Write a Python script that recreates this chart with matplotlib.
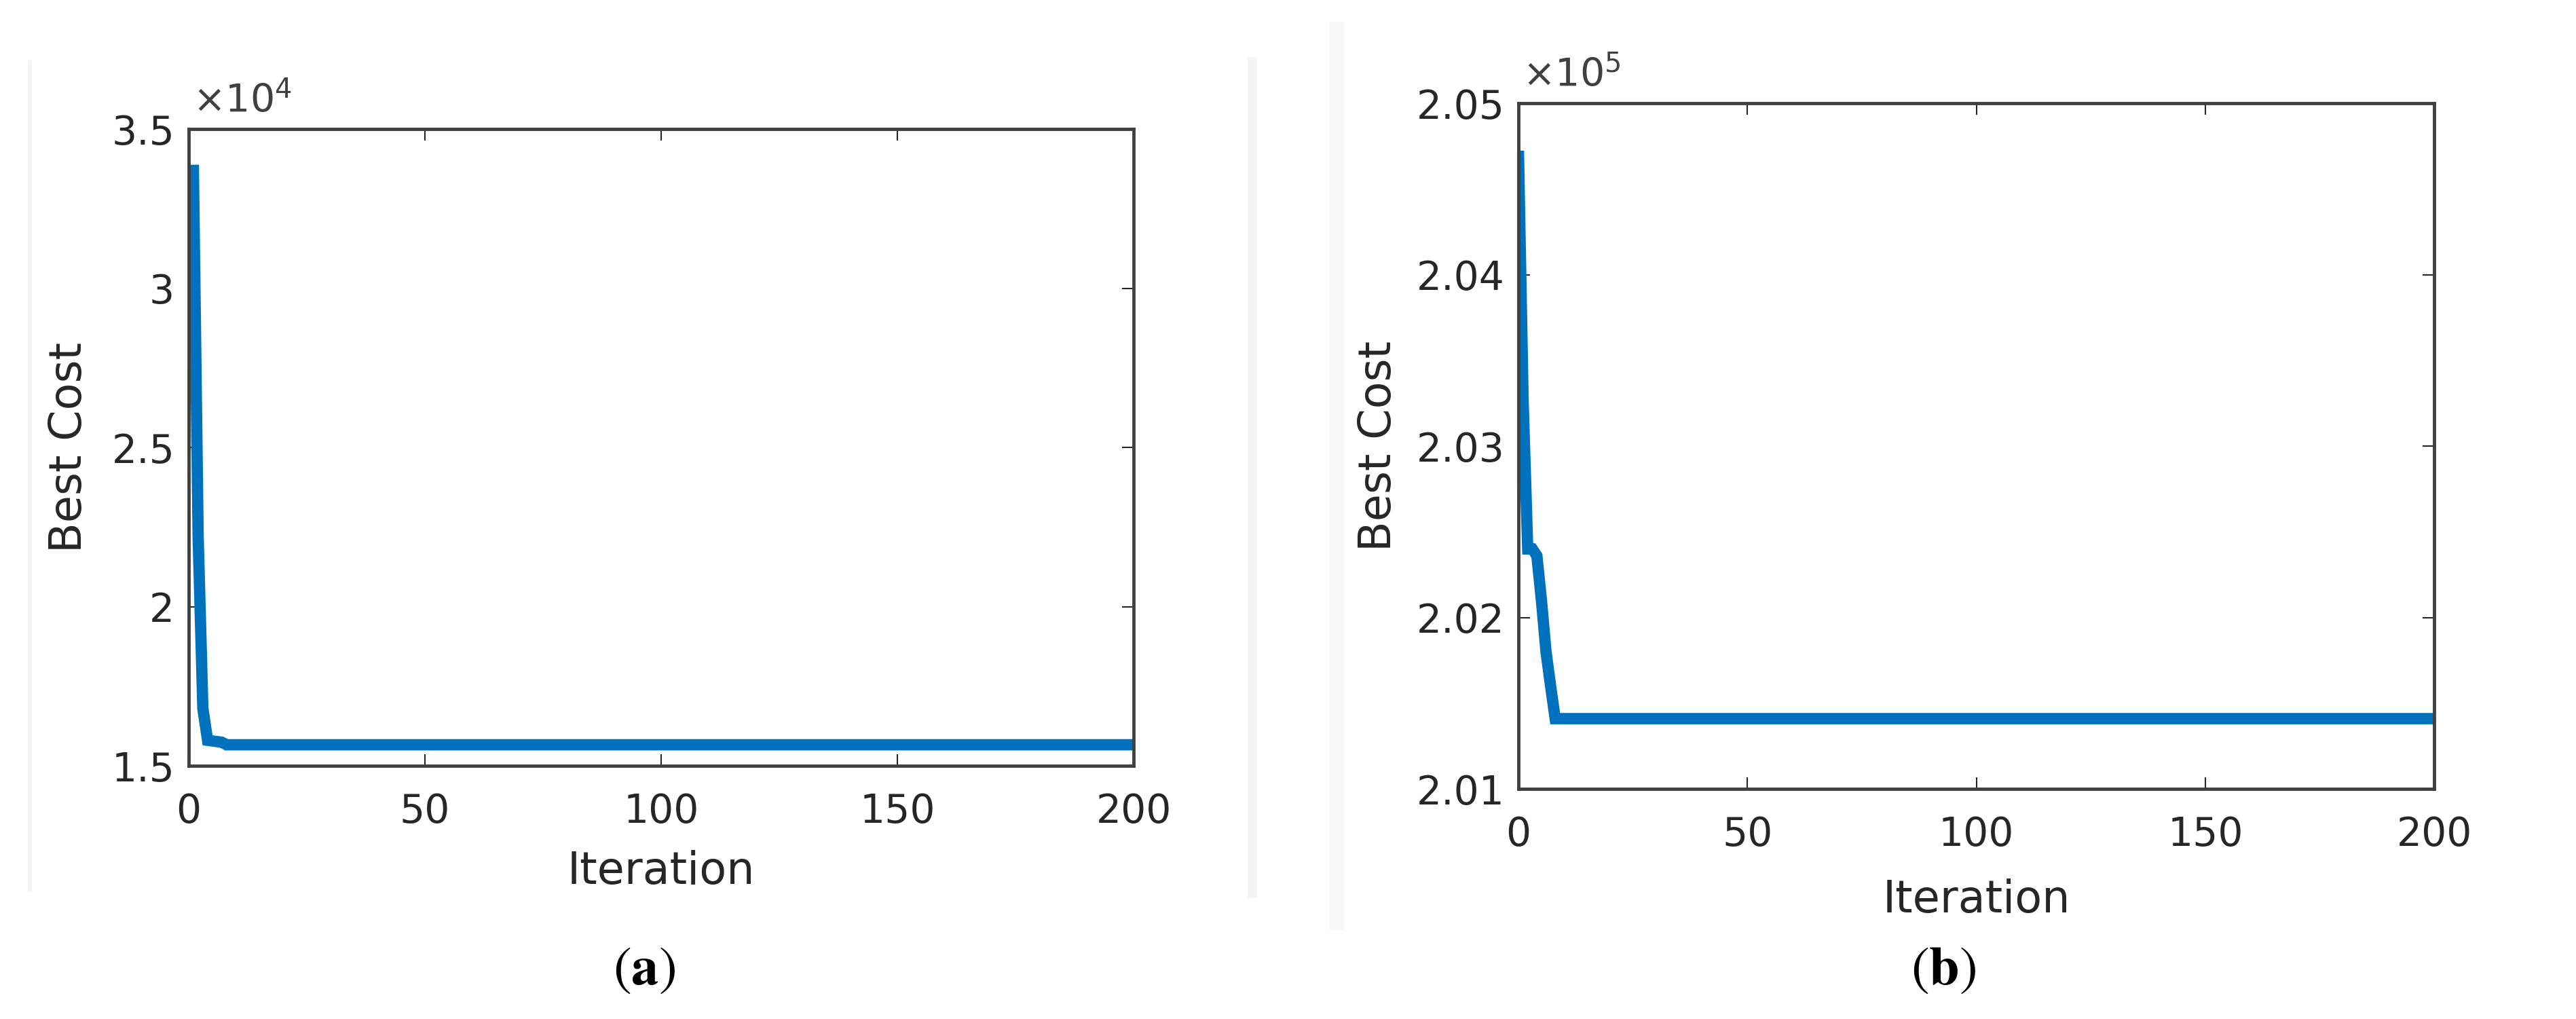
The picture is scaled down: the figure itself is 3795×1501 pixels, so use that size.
import numpy as np
import matplotlib
matplotlib.use("Agg")
import matplotlib.pyplot as plt
from matplotlib.lines import Line2D
from matplotlib.ticker import FuncFormatter

# iterations of the optimiser (panel b is logged from iteration 0)
iters_a = np.arange(1, 201)
iters_b = np.arange(0, 200)

# (a) best cost, first iterations then plateau
cost_a_head = [33700, 22200, 16800, 15800, 15780, 15760, 15740, 15660]
cost_a_tail = 15660
# (b) best cost, first iterations then plateau
cost_b_head = [204690, 203260, 202400, 202400, 202360, 202100, 201800, 201600, 201410]
cost_b_tail = 201410

x_ticks = [0, 50, 100, 150, 200]
y_ticks_a = [15000, 20000, 25000, 30000, 35000]
y_ticks_b = [201000, 202000, 203000, 204000, 205000]


def full_series(n, head, tail):
    return np.r_[head, np.full(n - len(head), tail)]


plt.rcParams["font.family"] = "DejaVu Sans"
TXT = "#262626"
LINE = "#0072BD"

fig = plt.figure(figsize=(37.95, 15.01), dpi=100)
fig.patch.set_facecolor("white")

# faint panel borders
for x, y0, y1, c, w in [
    (44 / 3795, 91, 1310, "#f4f4f4", 4),
    (1845 / 3795, 91, 1316, "#f4f4f4", 10),
    (1970 / 3795, 43, 1359, "#f8f8f8", 16),
]:
    fig.add_artist(Line2D([x, x], [1 - y1 / 1501, 1 - y0 / 1501],
                          transform=fig.transFigure, color=c, lw=w, zorder=0))

panels = [
    ([0.07325, 0.2485, 0.3668, 0.6249], iters_a, cost_a_head, cost_a_tail, y_ticks_a,
     1e4, "4", "a", 949, 22, 20),
    ([0.5895, 0.2258, 0.3555, 0.6729], iters_b, cost_b_head, cost_b_tail, y_ticks_b,
     1e5, "5", "b", 2863, 17, 26),
]

for rect, it, head, tail, yt, scale, exp, tag, tag_x, ypad, xpad in panels:
    ax = fig.add_axes(rect)
    ax.plot(it, full_series(len(it), head, tail), color=LINE, lw=12, solid_joinstyle="miter")
    ax.set_xlim(0, 200)
    ax.set_ylim(yt[0], yt[-1])
    ax.set_xticks(x_ticks)
    ax.set_yticks(yt)
    ax.yaxis.set_major_formatter(FuncFormatter(lambda v, p, s=scale: f"{v / s:g}"))
    ax.tick_params(direction="in", length=12, width=1.5, colors=TXT, labelsize=42,
                   top=True, right=True)
    ax.tick_params(axis="x", pad=28)
    ax.tick_params(axis="y", pad=15)
    for sp in ax.spines.values():
        sp.set_color("#404040")
        sp.set_linewidth(3.5)
    ax.set_xlabel("Iteration", fontsize=47, color=TXT, labelpad=xpad)
    ax.set_ylabel("Best Cost", fontsize=47, color=TXT, labelpad=ypad)
    ax.text(0.004, 1.012, r"$\times10^{%s}$" % exp, transform=ax.transAxes,
            fontsize=41, color="#404040", ha="left", va="bottom")
    fig.text(tag_x / 3795, 1 - 1428 / 1501, r"$(\mathbf{%s})$" % tag, fontsize=58,
             math_fontfamily="stix", ha="center", va="center", color="black")

fig.savefig("out.png", dpi=100, facecolor="white")
